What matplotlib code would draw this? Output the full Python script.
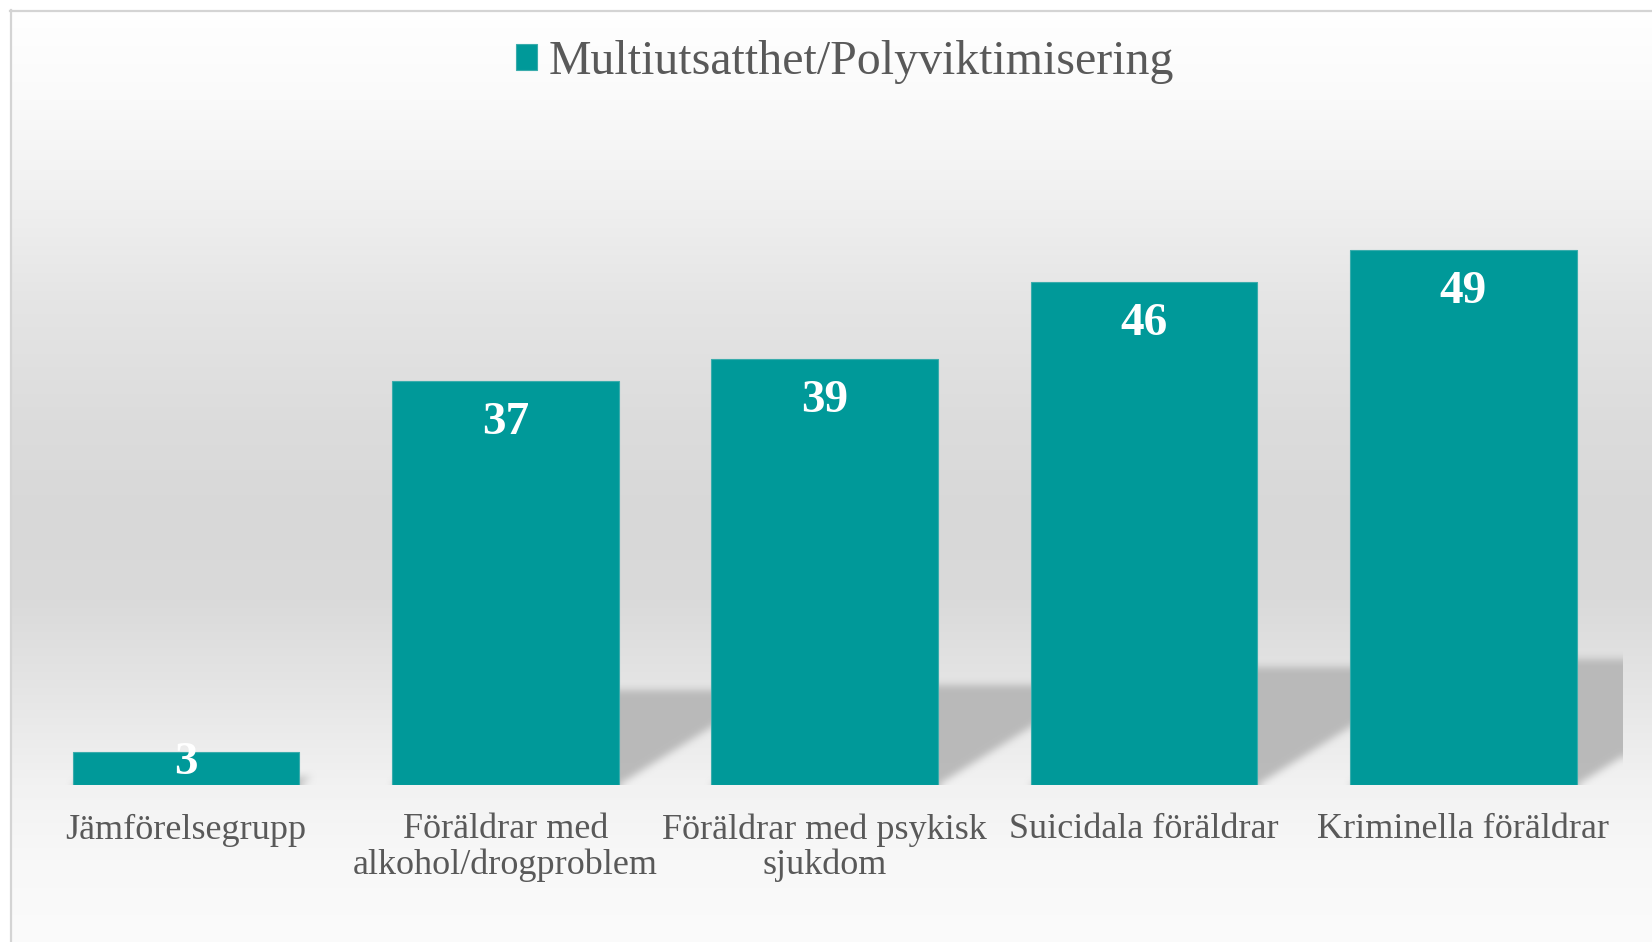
import numpy as np
import matplotlib
matplotlib.use("Agg")
import matplotlib.pyplot as plt

# ---------------- data ----------------
categories = ["Jämförelsegrupp",
              "Föräldrar med\nalkohol/drogproblem",
              "Föräldrar med psykisk\nsjukdom",
              "Suicidala föräldrar",
              "Kriminella föräldrar"]
values = [3, 37, 39, 46, 49]
series_name = "Multiutsatthet/Polyviktimisering"

# ---------------- style ----------------
W, H = 1652, 942
TEAL = "#009999"
TXT = "#595959"
FONT = "Liberation Serif"

fig = plt.figure(figsize=(W / 100, H / 100), dpi=100)
fig.patch.set_facecolor("white")

# background panel with vertical gradient
bg = fig.add_axes([0, 0, 1, 1])
bg.set_xlim(0, W)
bg.set_ylim(H, 0)
bg.axis("off")
stop_y = [10, 100, 200, 300, 420, 520, 600, 680, 785, 860, 942]
stop_v = [255, 250, 240, 229, 220, 216, 218, 228, 242, 248, 251]
ys = np.arange(10, H)
g = np.interp(ys, stop_y, stop_v) / 255.0
grad = np.repeat(g[:, None, None], 3, axis=2)
bg.imshow(grad, extent=(10, W, H, 10), aspect="auto", interpolation="bilinear", zorder=0)
bg.plot([10.5, 10.5], [10, H], color="#d4d4d4", lw=1.6, zorder=1)
bg.plot([10, W], [10.5, 10.5], color="#d4d4d4", lw=1.6, zorder=1)

# main axes
ax_left, ax_right = 26.3, 1623.1
ax_bottom, ax_top = 785, 100
ax = fig.add_axes([ax_left / W, (H - ax_bottom) / H,
                   (ax_right - ax_left) / W, (ax_bottom - ax_top) / H])
ax.patch.set_visible(False)
YTOP = 62.7
ax.set_xlim(-0.5, len(values) - 0.5)
ax.set_ylim(0, YTOP)
for s in ax.spines.values():
    s.set_visible(False)
ax.set_yticks([])

x = np.arange(len(values))
BW = 0.71
bars = ax.bar(x, values, width=BW, color=TEAL, edgecolor="#3aacac",
              linewidth=0.8, zorder=3, label=series_name)

# perspective shadows (raster, blurred)
Wa = int(round(ax_right - ax_left))
Ha = int(round(ax_bottom - ax_top))
ppu_y = Ha / YTOP
ppu_x = Wa / len(values)
jj = np.arange(Wa) + 0.5
ii = np.arange(Ha) + 0.5
xd = -0.5 + jj / ppu_x                    # data x of columns
yp = (Ha - ii)                             # px above baseline for rows
XX, YP = np.meshgrid(xd, yp)
mask = np.zeros((Ha, Wa))
k_sh = 0.235
skew = 1.6
for xi, v in zip(x, values):
    hs_px = k_sh * v * ppu_y
    shift = skew * YP / ppu_x
    inside = (YP <= hs_px) & (XX >= xi - BW / 2 + shift) & (XX <= xi + BW / 2 + shift)
    mask = np.maximum(mask, inside.astype(float))


def box_blur(a, r, axis):
    pad = [(0, 0), (0, 0)]
    pad[axis] = (r + 1, r)
    p = np.pad(a, pad, mode="edge")
    c = np.cumsum(p, axis=axis)
    n = a.shape[axis]
    if axis == 0:
        return (c[2 * r + 1:2 * r + 1 + n] - c[0:n]) / (2 * r + 1)
    return (c[:, 2 * r + 1:2 * r + 1 + n] - c[:, 0:n]) / (2 * r + 1)


for _ in range(2):
    mask = box_blur(mask, 4, 0)
    mask = box_blur(mask, 4, 1)

rgba = np.zeros((Ha, Wa, 4))
rgba[..., :3] = 0.72
rgba[..., 3] = np.clip(mask, 0, 1) * 0.95
ax.imshow(rgba, extent=(-0.5, len(values) - 0.5, 0, YTOP), aspect="auto",
          interpolation="bilinear", zorder=1)

# value labels
for xi, v in zip(x, values):
    ypos = max(v - 42 / ppu_y, 22 / ppu_y)
    ax.text(xi, ypos, str(v), ha="center", va="center", color="white",
            fontsize=34, fontweight="bold", family=FONT, zorder=4)

# category labels
ax.set_xticks(x)
ax.set_xticklabels(categories, fontsize=26, color=TXT, family=FONT, linespacing=1.07)
ax.tick_params(axis="x", length=0, pad=20.5)

# legend
leg = fig.legend(handles=[bars], labels=[series_name], loc="center",
                 bbox_to_anchor=(845 / W, 1 - 62 / H), frameon=False,
                 prop={"family": FONT, "size": 34.5}, handlelength=0.44,
                 handleheight=0.46, handletextpad=0.25, labelcolor=TXT)

fig.savefig("out.png", dpi=100, facecolor="white")
